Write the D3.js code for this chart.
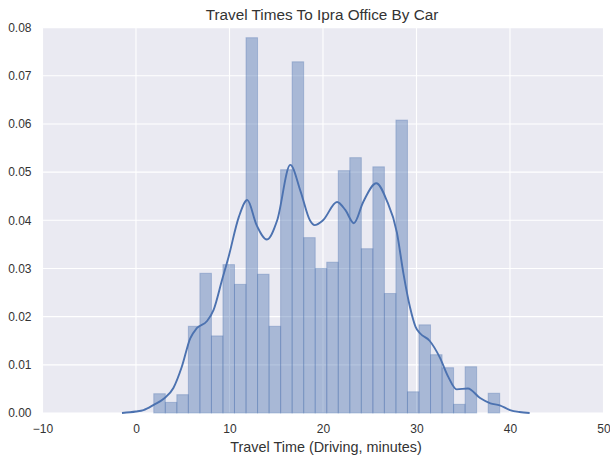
<!DOCTYPE html>
<html>
<head>
<meta charset="utf-8">
<script src="https://cdn.jsdelivr.net/npm/d3@7"></script>
<style>
  html, body { margin: 0; padding: 0; background: #ffffff; }
  svg { display: block; }
  text { font-family: "Liberation Sans", Arial, sans-serif; fill: #333333; }
</style>
</head>
<body>
<script>
// Histogram bins (density) of travel times
const binStart = 1.9;
const binWidth = 1.2333;
const binDensity = [
  0.0040, 0.0022, 0.0038, 0.0180, 0.0290, 0.0160, 0.0308, 0.0267, 0.0779, 0.0288,
  0.0180, 0.0505, 0.0729, 0.0364, 0.0300, 0.0313, 0.0503, 0.0530, 0.0341, 0.0511,
  0.0248, 0.0608, 0.0044, 0.0183, 0.0121, 0.0094, 0.0018, 0.0096, 0.0000, 0.0041
];

// Kernel density estimate, sampled along the curve
const kdeX = [
  -1.5, 0.0, 0.8, 1.9, 3.0, 4.0, 4.9, 5.8, 6.5, 7.6, 8.3, 9.2, 9.9, 11.0, 11.9,
  12.9, 14.0, 15.1, 16.5, 17.6, 18.6, 19.1, 20.0, 21.5, 22.4, 23.3, 24.3, 25.7,
  26.8, 27.9, 28.6, 29.3, 29.9, 30.4, 31.4, 32.5, 33.4, 34.3, 35.5, 36.8, 37.9,
  38.9, 40.0, 41.0, 42.1
];
const kdeY = [
  0.0000, 0.0003, 0.0006, 0.0017, 0.0030, 0.0052, 0.0096, 0.0155, 0.0176, 0.0191,
  0.0214, 0.0276, 0.0324, 0.0407, 0.0442, 0.0390, 0.0360, 0.0400, 0.0515, 0.0460,
  0.0400, 0.0390, 0.0400, 0.0438, 0.0421, 0.0394, 0.0438, 0.0477, 0.0442, 0.0375,
  0.0290, 0.0220, 0.0179, 0.0165, 0.0150, 0.0115, 0.0075, 0.0049, 0.0051, 0.0031,
  0.0020, 0.0016, 0.0006, 0.0002, 0.0000
];

const xTicks = [-10, 0, 10, 20, 30, 40, 50];
const yTicks = [0.00, 0.01, 0.02, 0.03, 0.04, 0.05, 0.06, 0.07, 0.08];

const titleText = "Travel Times To Ipra Office By Car";
const xLabelText = "Travel Time (Driving, minutes)";

const W = 610, H = 459;
const plot = { left: 42.5, right: 603.5, top: 27.6, bottom: 413 };

const svg = d3.select("body").append("svg")
  .attr("width", W).attr("height", H);

const x = d3.scaleLinear().domain([-10, 50]).range([plot.left, plot.right]);
const y = d3.scaleLinear().domain([0, 0.08]).range([plot.bottom, plot.top]);

// Panel background
svg.append("rect")
  .attr("x", plot.left).attr("y", plot.top)
  .attr("width", plot.right - plot.left).attr("height", plot.bottom - plot.top)
  .attr("fill", "#EAEAF2");

// Grid
const grid = svg.append("g").attr("stroke", "#ffffff").attr("stroke-width", 1.1);
grid.selectAll("line.v").data(xTicks).join("line")
  .attr("x1", d => x(d)).attr("x2", d => x(d))
  .attr("y1", plot.top).attr("y2", plot.bottom);
grid.selectAll("line.h").data(yTicks).join("line")
  .attr("x1", plot.left).attr("x2", plot.right)
  .attr("y1", d => y(d)).attr("y2", d => y(d));

// Histogram bars
const bins = binDensity.map((v, i) => ({ x0: binStart + i * binWidth, x1: binStart + (i + 1) * binWidth, v }));
svg.append("g").selectAll("rect").data(bins.filter(b => b.v > 0)).join("rect")
  .attr("x", d => x(d.x0))
  .attr("width", d => x(d.x1) - x(d.x0))
  .attr("y", d => y(d.v))
  .attr("height", d => y(0) - y(d.v))
  .attr("fill", "#4C72B0").attr("fill-opacity", 0.42)
  .attr("stroke", "#4C72B0").attr("stroke-opacity", 0.35).attr("stroke-width", 1);

// KDE line
const kde = kdeX.map((d, i) => [d, kdeY[i]]);
svg.append("path")
  .datum(kde)
  .attr("fill", "none")
  .attr("stroke", "#4C72B0")
  .attr("stroke-width", 1.9)
  .attr("d", d3.line().x(d => x(d[0])).y(d => y(d[1])).curve(d3.curveMonotoneX));

// Axes (labels only; seaborn darkgrid has no spines or tick marks)
const xAxis = svg.append("g")
  .attr("transform", `translate(0,${plot.bottom + 8})`)
  .call(d3.axisBottom(x).tickValues(xTicks).tickSize(0).tickPadding(3)
    .tickFormat(d => d < 0 ? "\u2212" + Math.abs(d) : String(d)));
xAxis.select(".domain").remove();
xAxis.selectAll("text").attr("font-size", 12).attr("fill", "#333333")
  .style("font-family", "'Liberation Sans', Arial, sans-serif");

const yAxis = svg.append("g")
  .attr("transform", `translate(${plot.left - 11},0)`)
  .call(d3.axisLeft(y).tickValues(yTicks).tickSize(0).tickPadding(0)
    .tickFormat(d3.format(".2f")));
yAxis.select(".domain").remove();
yAxis.selectAll("text").attr("font-size", 12).attr("fill", "#333333")
  .style("font-family", "'Liberation Sans', Arial, sans-serif");

// Title and axis label
svg.append("text")
  .attr("x", 322).attr("y", 20)
  .attr("text-anchor", "middle").attr("font-size", 15.3)
  .text(titleText);

svg.append("text")
  .attr("x", 326).attr("y", 452)
  .attr("text-anchor", "middle").attr("font-size", 14.4)
  .text(xLabelText);
</script>
</body>
</html>
